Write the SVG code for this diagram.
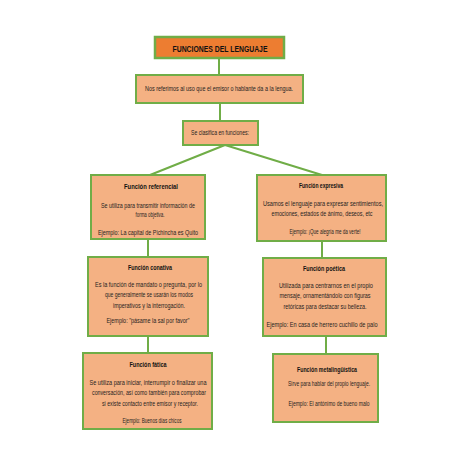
<svg xmlns="http://www.w3.org/2000/svg" width="452" height="452" viewBox="0 0 452 452">
<style>
.box{fill:#F4B183;stroke:#70AD47;stroke-width:2}
.head{fill:#ED7D31;stroke:#70AD47;stroke-width:2.5}
.t{font-family:"Liberation Sans",Arial,sans-serif;font-size:7px;fill:#1f1f1f;text-anchor:middle}
.b{font-weight:bold;fill:#111111}
.c{stroke:#70AD47;stroke-width:2;fill:none}
</style>
<rect width="452" height="452" fill="#ffffff"/>
<g id="connectors">
<line class="c" x1="219" y1="58" x2="219" y2="75"/>
<line class="c" x1="220" y1="103" x2="220" y2="121"/>
<line class="c" x1="225" y1="145" x2="150" y2="175"/>
<line class="c" x1="225" y1="145" x2="322" y2="175"/>
<line class="c" x1="148" y1="239" x2="148" y2="257"/>
<line class="c" x1="322" y1="241" x2="322" y2="258"/>
<line class="c" x1="148" y1="336" x2="148" y2="353"/>
<line class="c" x1="326" y1="336" x2="326" y2="354"/>
</g>
<g id="titulo">
<rect class="head" x="155" y="37" width="129" height="21"/>
<text class="t b" x="220" y="52" style="font-size:9.5px" textLength="95" lengthAdjust="spacingAndGlyphs">FUNCIONES DEL LENGUAJE</text>
</g>
<g id="definicion">
<rect class="box" x="136" y="75" width="167" height="28"/>
<text class="t" x="219" y="90.5" textLength="148" lengthAdjust="spacingAndGlyphs">Nos referimos al uso que el emisor o hablante da a la lengua.</text>
</g>
<g id="clasifica">
<rect class="box" x="183" y="121" width="75" height="24"/>
<text class="t" x="220" y="134.5" textLength="58" lengthAdjust="spacingAndGlyphs">Se clasifica en funciones:</text>
</g>
<g id="referencial">
<rect class="box" x="91" y="175" width="114" height="64"/>
<text class="t b" x="151" y="188.5" textLength="54" lengthAdjust="spacingAndGlyphs">Función referencial</text>
<text class="t" x="148" y="207.5" textLength="94" lengthAdjust="spacingAndGlyphs">Se utiliza para transmitir información de</text>
<text class="t" x="150" y="216.5" textLength="29" lengthAdjust="spacingAndGlyphs">forma objetiva.</text>
<text class="t" x="148" y="234.5" textLength="100" lengthAdjust="spacingAndGlyphs">Ejemplo: La capital de Pichincha es Quito</text>
</g>
<g id="expresiva">
<rect class="box" x="257" y="175" width="129" height="66"/>
<text class="t b" x="321" y="187.5" textLength="44" lengthAdjust="spacingAndGlyphs">Función expresiva</text>
<text class="t" x="323" y="205.5" textLength="120" lengthAdjust="spacingAndGlyphs">Usamos el lenguaje para expresar sentimientos,</text>
<text class="t" x="322" y="215.5" textLength="101" lengthAdjust="spacingAndGlyphs">emociones, estados de ánimo, deseos, etc</text>
<text class="t" x="325" y="233.5" textLength="71" lengthAdjust="spacingAndGlyphs">Ejemplo: ¡Que alegría me da verte!</text>
</g>
<g id="conativa">
<rect class="box" x="88" y="257" width="120" height="79"/>
<text class="t b" x="150" y="269.5" textLength="44" lengthAdjust="spacingAndGlyphs">Función conativa</text>
<text class="t" x="148.5" y="286.5" textLength="107" lengthAdjust="spacingAndGlyphs">Es la función de mandato o pregunta, por lo</text>
<text class="t" x="149" y="297" textLength="88" lengthAdjust="spacingAndGlyphs">que generalmente se usarán los modos</text>
<text class="t" x="149" y="307.5" textLength="72" lengthAdjust="spacingAndGlyphs">imperativos y la interrogación.</text>
<text class="t" x="148" y="322.5" textLength="83" lengthAdjust="spacingAndGlyphs">Ejemplo: "pásame la sal por favor"</text>
</g>
<g id="poetica">
<rect class="box" x="263" y="258" width="123" height="78"/>
<text class="t b" x="324" y="270.5" textLength="42" lengthAdjust="spacingAndGlyphs">Función poética</text>
<text class="t" x="326" y="287.5" textLength="94" lengthAdjust="spacingAndGlyphs">Utilizada para centrarnos en el propio</text>
<text class="t" x="325" y="298" textLength="91" lengthAdjust="spacingAndGlyphs">mensaje, ornamentándolo con figuras</text>
<text class="t" x="325" y="308.5" textLength="83" lengthAdjust="spacingAndGlyphs">retóricas para destacar su belleza.</text>
<text class="t" x="322" y="326.5" textLength="111" lengthAdjust="spacingAndGlyphs">Ejemplo: En casa de herrero cuchillo de palo</text>
</g>
<g id="fatica">
<rect class="box" x="83" y="353" width="129" height="76"/>
<text class="t b" x="148" y="366.5" textLength="37" lengthAdjust="spacingAndGlyphs">Función fática</text>
<text class="t" x="148" y="384.5" textLength="117" lengthAdjust="spacingAndGlyphs">Se utiliza para iniciar, interrumpir o finalizar una</text>
<text class="t" x="149" y="395" textLength="114" lengthAdjust="spacingAndGlyphs">conversación, así como también para comprobar</text>
<text class="t" x="150" y="405.5" textLength="96" lengthAdjust="spacingAndGlyphs">si existe contacto entre emisor y receptor.</text>
<text class="t" x="152" y="422.5" textLength="59" lengthAdjust="spacingAndGlyphs">Ejemplo: Buenos días chicos</text>
</g>
<g id="metalinguistica">
<rect class="box" x="273" y="354" width="105" height="68"/>
<text class="t b" x="327" y="371.5" textLength="60" lengthAdjust="spacingAndGlyphs">Función metalingüística</text>
<text class="t" x="329" y="385.5" textLength="82" lengthAdjust="spacingAndGlyphs">Sirve para hablar del propio lenguaje.</text>
<text class="t" x="329" y="405.5" textLength="81" lengthAdjust="spacingAndGlyphs">Ejemplo: El antónimo de bueno malo</text>
</g>
</svg>
